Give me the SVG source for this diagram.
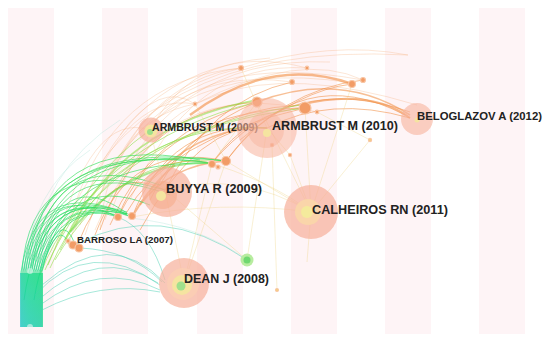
<svg xmlns="http://www.w3.org/2000/svg" width="550" height="343" viewBox="0 0 550 343">
<defs>
<linearGradient id="bund" gradientUnits="userSpaceOnUse" x1="0" y1="330" x2="0" y2="190">
<stop offset="0" stop-color="#22c8c0"/>
<stop offset="0.4" stop-color="#14dc80"/>
<stop offset="1" stop-color="#33de58"/>
</linearGradient>
<linearGradient id="bfill" gradientUnits="userSpaceOnUse" x1="20" y1="0" x2="43" y2="0">
<stop offset="0" stop-color="#38c6d6"/>
<stop offset="0.35" stop-color="#22d8a6"/>
<stop offset="1" stop-color="#1cdc78"/>
</linearGradient>
<style>
.st{fill:#fef4f6}
.e{fill:none}
.b{stroke:url(#bund);stroke-width:0.8;opacity:0.8}
.g{stroke:#86dc3a;stroke-width:1;opacity:0.55}
.o{stroke:#f2954f;stroke-width:1;opacity:0.6}
.of{stroke:#f4b07c;stroke-width:0.7;opacity:0.45}
.y{stroke:#ecd07a;stroke-width:0.6;opacity:0.55}
.t{stroke:#45cfb0;stroke-width:0.8;opacity:0.6}
.tf{stroke:#9fdcd0;stroke-width:0.6;opacity:0.5}
.halo{fill:#f7b29c;opacity:0.72}
.r2{fill:#fbcdb4;opacity:0.9}
.r3{fill:#f5e4a0}
.r4{fill:#9fe08c}
.sm{fill:#f29c66;stroke:#f8c6a6;stroke-width:1.2}
.lb{font-family:"Liberation Sans",Arial,sans-serif;font-weight:bold;fill:#222}
</style>
</defs>
<rect x="0" y="0" width="550" height="343" fill="#ffffff"/>
<g id="stripes">
<rect class="st" x="8" y="8" width="46" height="326"/>
<rect class="st" x="102" y="8" width="46" height="326"/>
<rect class="st" x="197" y="8" width="46" height="326"/>
<rect class="st" x="291" y="8" width="46" height="326"/>
<rect class="st" x="385" y="8" width="46" height="326"/>
<rect class="st" x="479" y="8" width="46" height="326"/>
</g>
<g id="connectors" class="e">
<path class="of" d="M60,240 Q130,40 408,55"/>
<path class="of" d="M80,225 Q150,50 352,83"/>
<path class="of" d="M90,220 Q140,80 241,68"/>
<path class="of" d="M70,240 Q120,90 195,104"/>
<path class="of" d="M110,215 Q170,30 417,105"/>
<path class="of" d="M100,230 Q110,120 195,104"/>
<path class="of" d="M150,130 Q200,40 307,68"/>
<path class="of" d="M120,160 Q150,90 241,68"/>
<path class="of" d="M140,140 Q200,50 363,80"/>
<path class="of" d="M120,135 Q160,80 195,104"/>
<path class="of" d="M70,220 Q110,80 241,68"/>
<path class="of" d="M55,250 Q90,110 150,130"/>
<path class="of" d="M241,68 Q330,40 408,55"/>
<path class="of" d="M195,104 Q300,50 363,80"/>
<path class="of" d="M85,235 Q140,60 292,82"/>
<path class="of" d="M95,230 Q160,70 317,112"/>
<path class="of" d="M130,200 Q190,60 307,68"/>
<path class="of" d="M75,230 Q120,70 270,58"/>
<path class="of" d="M105,220 Q160,55 330,62"/>
<path class="o" style="stroke-width:2.4;opacity:0.65" d="M190,115 Q270,55 352,84"/>
<path class="o" style="stroke-width:2;opacity:0.65" d="M300,105 Q370,88 410,118"/>
<path class="o" style="stroke-width:1.5" d="M257,102 Q340,70 410,115"/>
<path class="o" d="M226,161 Q300,60 405,115"/>
<path class="o" d="M212,163 Q290,70 410,112"/>
<path class="o" d="M100,230 Q140,110 257,102"/>
<path class="o" d="M118,217 Q160,110 305,108"/>
<path class="o" d="M132,217 Q170,120 267,128"/>
<path class="o" d="M150,200 Q190,110 300,105"/>
<path class="o" d="M165,190 Q210,100 292,82"/>
<path class="o" d="M140,230 Q200,120 267,128"/>
<path class="o" style="stroke-width:2" d="M132,217 Q150,185 175,165"/>
<path class="o" style="stroke-width:1.6" d="M140,205 Q170,165 226,161"/>
<path class="o" d="M160,185 Q190,130 257,102"/>
<path class="o" d="M212,163 Q250,110 305,108"/>
<path class="o" d="M240,140 Q300,90 352,84"/>
<path class="o" d="M267,128 Q330,95 410,118"/>
<path class="o" d="M226,161 Q280,90 363,80"/>
<path class="o" d="M77,246 Q110,160 165,190"/>
<path class="o" d="M118,217 Q150,150 212,163"/>
<path class="o" d="M110,225 Q150,130 257,102"/>
<path class="o" d="M125,215 Q165,140 305,108"/>
<path class="o" d="M95,235 Q130,140 226,161"/>
<path class="o" style="stroke-width:1.5" d="M145,185 Q200,125 267,128"/>
<path class="g" d="M40,275 Q90,140 300,105"/>
<path class="g" d="M45,270 Q100,140 257,102"/>
<path class="g" d="M50,268 Q110,130 305,108"/>
<path class="g" d="M60,250 Q130,120 267,128"/>
<path class="g" d="M55,260 Q120,150 226,161"/>
<path class="g" style="stroke-width:2;stroke:#66dc44" d="M70,232 Q130,160 212,163"/>
<path class="g" style="stroke-width:1.6" d="M65,240 Q120,125 257,100"/>
<path class="g" d="M48,265 Q80,180 150,130"/>
<path d="M20,327 L20,273 L43,273 L43,327 Z" fill="url(#bfill)" opacity="0.7"/>
<path class="b" d="M21,327 L21,272 Q36,175 127,214"/>
<path class="b" d="M23,327 L23,272 Q40,178 118,217"/>
<path class="b" d="M25,327 L25,272 Q42,180 127,214"/>
<path class="b" d="M27,327 L27,272 Q46,182 132,217"/>
<path class="b" d="M29,327 L29,272 Q48,185 118,217"/>
<path class="b" d="M31,327 L31,272 Q50,188 127,214"/>
<path class="b" d="M33,327 L33,272 Q54,190 132,217"/>
<path class="b" d="M35,327 L35,272 Q55,195 118,217"/>
<path class="b" d="M37,327 L37,272 Q58,198 127,214"/>
<path class="b" d="M39,327 L39,272 Q60,205 75,244"/>
<path class="b" d="M41,327 L41,272 Q58,215 70,246"/>
<path class="b" d="M22,327 L22,272 Q30,150 165,190"/>
<path class="b" d="M24,327 L24,272 Q34,140 212,163"/>
<path class="b" d="M26,327 L26,272 Q36,135 226,161"/>
<path class="b" d="M28,327 L28,272 Q40,130 200,160"/>
<path class="b" d="M30,327 L30,272 Q44,138 212,163"/>
<path class="b" d="M32,327 L32,272 Q46,145 160,185"/>
<path class="b" d="M34,327 L34,272 Q48,140 226,161"/>
<path class="b" d="M36,327 L36,272 Q52,150 170,195"/>
<path class="b" d="M38,327 L38,272 Q56,158 132,217"/>
<path class="b" d="M40,327 L40,272 Q60,160 212,163"/>
<path class="b" d="M42,327 L42,272 Q64,170 150,205"/>
<path class="b" d="M24,300 Q40,185 127,212"/>
<path class="b" d="M34,300 Q50,200 118,215"/>
<path class="t" d="M35,295 Q90,235 160,285"/>
<path class="t" d="M38,300 Q100,245 158,283"/>
<path class="t" d="M40,305 Q100,260 160,290"/>
<path class="t" d="M42,285 Q110,225 165,283"/>
<path class="t" d="M77,244 Q160,200 247,260"/>
<path class="t" d="M42,310 Q100,280 160,292"/>
<path class="t" d="M118,217 Q150,230 165,280"/>
<path class="t" d="M80,248 Q130,250 162,282"/>
<path class="tf" d="M30,270 Q40,170 120,120"/>
<path class="tf" d="M25,272 Q30,190 90,150"/>
<path class="tf" d="M130,218 Q200,225 247,260"/>
<path class="y" d="M257,102 L311,212"/>
<path class="y" d="M305,108 L311,212"/>
<path class="y" d="M290,155 L311,212"/>
<path class="y" d="M352,84 L311,212"/>
<path class="y" d="M370,140 L311,212"/>
<path class="y" d="M226,161 L311,212"/>
<path class="y" d="M212,163 L184,283"/>
<path class="y" d="M165,190 L184,283"/>
<path class="y" d="M311,212 L307,262"/>
<path class="y" d="M267,128 L247,260"/>
<path class="y" d="M200,160 Q270,180 311,212"/>
<path class="y" d="M160,185 L247,260"/>
<path class="y" d="M267,128 L290,155"/>
<path class="y" d="M150,130 L165,190"/>
<path class="y" d="M165,190 Q240,170 311,212"/>
<path class="y" d="M132,217 Q220,200 311,212"/>
<path class="y" d="M226,161 L184,283"/>
<path class="y" d="M241,68 L267,128"/>
<path class="y" d="M272,145 L277,290"/>
<path class="y" d="M317,112 L370,140"/>
<path class="y" d="M195,104 L226,161"/>
<path class="y" d="M257,102 L212,163"/>
</g>
<g id="small-nodes">
<circle class="sm" cx="241" cy="68" r="2.5"/>
<circle class="sm" cx="195" cy="104" r="1.8"/>
<circle class="sm" cx="307" cy="68" r="1.8"/>
<circle class="sm" cx="292" cy="82" r="2.5"/>
<circle class="sm" cx="352" cy="84" r="3.5"/>
<circle class="sm" cx="363" cy="80" r="2.5"/>
<circle class="sm" cx="257" cy="102" r="5"/>
<circle class="sm" cx="305" cy="108" r="6"/>
<circle class="sm" cx="317" cy="112" r="1.8"/>
<circle class="sm" cx="370" cy="140" r="1.6" style="fill:#f2d27a"/>
<circle class="sm" cx="290" cy="155" r="1.6"/>
<circle class="sm" cx="272" cy="145" r="1.6"/>
<circle class="sm" cx="226" cy="161" r="4.5"/>
<circle class="sm" cx="212" cy="164" r="3.5"/>
<circle class="sm" cx="218" cy="167" r="2"/>
<circle class="sm" cx="118" cy="217" r="3.5"/>
<circle class="sm" cx="132" cy="216" r="3.5"/>
<circle class="sm" cx="277" cy="290" r="1.5" style="fill:#f2d27a"/>
<circle cx="30" cy="271" r="3" fill="#e4f7f2" opacity="0.6"/>
<circle cx="30" cy="327" r="3" fill="#eef7f5" opacity="0.6"/>
</g>
<g id="node-green">
<circle cx="247" cy="260" r="6.5" fill="#b8eca0"/>
<circle cx="247" cy="260" r="3.5" fill="#6fd870"/>
</g>
<g id="node-barroso">
<circle class="sm" cx="73" cy="245" r="4"/>
<circle class="sm" cx="79" cy="248" r="4"/>
<circle class="sm" cx="68" cy="241" r="2"/>
<text class="lb" x="77" y="243" font-size="9.8" textLength="96" lengthAdjust="spacingAndGlyphs">BARROSO LA (2007)</text>
</g>
<g id="node-armbrust2009">
<circle class="halo" cx="151" cy="130" r="12.5"/>
<circle class="r3" cx="151" cy="131" r="6.5"/>
<circle class="r4" cx="150" cy="132" r="3"/>
<text class="lb" x="152" y="131" font-size="10.6" textLength="106" lengthAdjust="spacingAndGlyphs">ARMBRUST M (2009)</text>
</g>
<g id="node-armbrust2010">
<circle class="halo" cx="267" cy="128" r="30" style="opacity:0.55"/>
<circle class="halo" cx="266" cy="130" r="18" style="opacity:0.45"/>
<circle class="r3" cx="267" cy="133" r="4"/>
<text class="lb" x="272" y="130" font-size="13.5" textLength="126" lengthAdjust="spacingAndGlyphs">ARMBRUST M (2010)</text>
</g>
<g id="node-beloglazov">
<circle class="halo" cx="417" cy="119" r="16" style="opacity:0.6"/>
<circle class="r3" cx="417" cy="120" r="2.5"/>
<text class="lb" x="417" y="120" font-size="11.4" textLength="125" lengthAdjust="spacingAndGlyphs">BELOGLAZOV A (2012)</text>
</g>
<g id="node-buyya">
<circle class="halo" cx="167" cy="192" r="25"/>
<circle class="r2" cx="163" cy="195" r="14" style="fill:#f6a884;opacity:0.5"/>
<circle class="r3" cx="161" cy="196" r="5"/>
<text class="lb" x="166" y="193" font-size="12.8" textLength="96" lengthAdjust="spacingAndGlyphs">BUYYA R (2009)</text>
</g>
<g id="node-calheiros">
<circle class="halo" cx="311" cy="212" r="27"/>
<circle class="r2" cx="308" cy="212" r="13" style="fill:#f9d7a8"/>
<circle class="r3" cx="307" cy="212" r="6" style="fill:#f4ea9c"/>
<text class="lb" x="312" y="214" font-size="12.8" textLength="136" lengthAdjust="spacingAndGlyphs">CALHEIROS RN (2011)</text>
</g>
<g id="node-dean">
<circle class="halo" cx="184" cy="283" r="25"/>
<circle class="r2" cx="183" cy="284" r="16"/>
<circle class="r3" cx="182" cy="285" r="10"/>
<circle class="r4" cx="181" cy="286" r="4.5"/>
<text class="lb" x="184" y="283" font-size="12.8" textLength="85" lengthAdjust="spacingAndGlyphs">DEAN J (2008)</text>
</g>
</svg>
